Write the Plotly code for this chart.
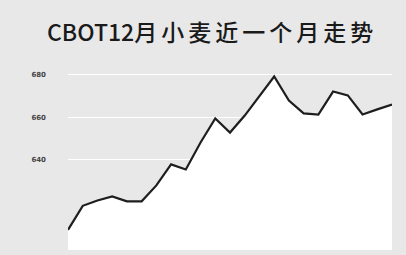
import plotly.graph_objects as go

days = list(range(23))
# values (cents/bushel, estimated)
prices = [607.1, 618.4, 620.9, 622.8, 620.5, 620.5, 628.0, 637.9, 635.5,
          648.2, 659.5, 652.9, 660.9, 669.9, 679.3, 668.0, 661.9, 661.4,
          672.2, 670.4, 661.4, 663.8, 666.1]
tick_vals = [640, 660, 680]
tick_text = ["640", "660", "680"]
title_text = 'CBOT12<span style="letter-spacing:4px">月小麦近一个月走势</span>'

bg = "#e8e8e8"
fig = go.Figure()
fig.add_trace(go.Scatter(
    x=days, y=prices, mode="lines",
    line=dict(color="#1e1e1e", width=2.2),
    fill="tozeroy", fillcolor="#ffffff",
    hoverinfo="skip", showlegend=False,
))
fig.update_layout(
    width=406, height=255,
    margin=dict(l=68, r=14, t=60, b=5),
    paper_bgcolor=bg, plot_bgcolor=bg,
    title=dict(text=title_text, x=47 / 406, xanchor="left", y=1 - 33 / 255, yanchor="middle",
               font=dict(family="Noto Sans CJK SC", size=23, color="#1a1a1a", weight=500)),
    xaxis=dict(range=[0, 22], showgrid=False, zeroline=False, showticklabels=False,
               showline=False, ticks=""),
    yaxis=dict(range=[597.6, 687.06], tickvals=tick_vals, ticktext=tick_text,
               showgrid=True, gridcolor="#ffffff", gridwidth=1, zeroline=False,
               tickfont=dict(family="DejaVu Sans", size=7, color="#444444", weight="bold"),
               ticklabelstandoff=21, showline=False),
)
fig.write_html("out.html", config={"displayModeBar": False},
               post_script="document.body.style.margin='0';")
